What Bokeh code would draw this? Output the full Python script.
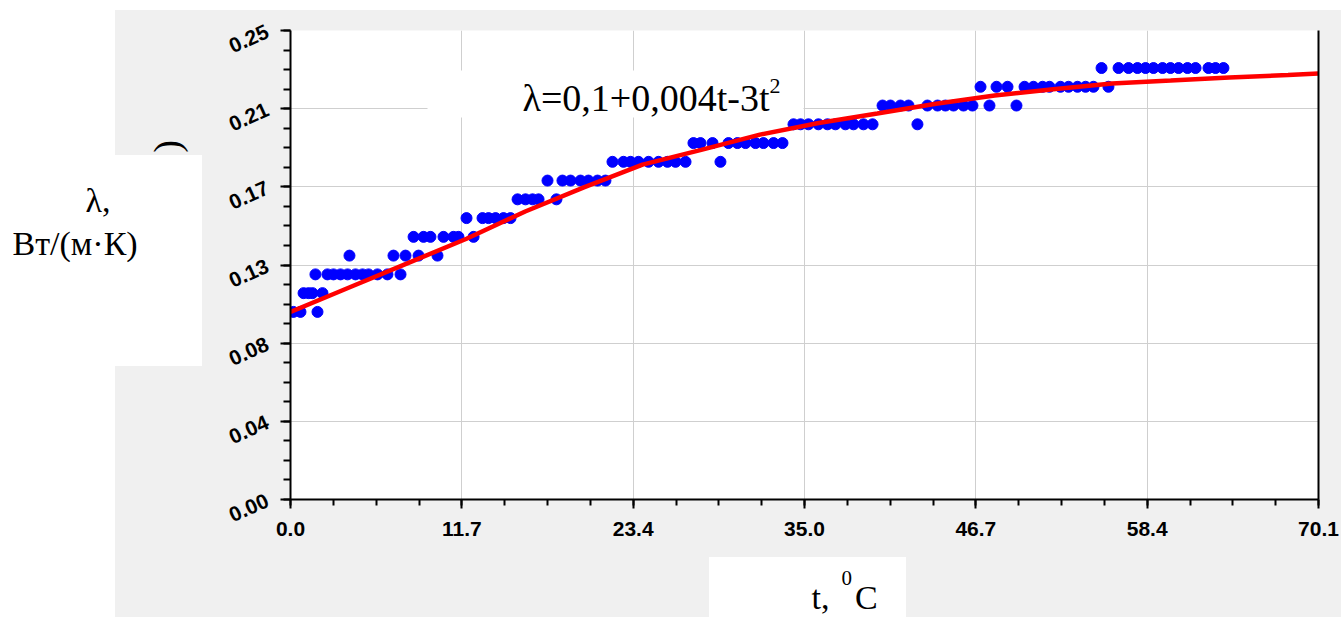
import math
from bokeh.plotting import figure
from bokeh.models import (Range1d, FixedTicker, NumeralTickFormatter, LinearAxis,
                          BoxAnnotation, Label)
from bokeh.embed import file_html
from bokeh.resources import INLINE

# ---------------- data ----------------
t_values = [0.20, 0.68, 0.89, 1.23, 1.50, 1.70, 1.84, 2.18, 2.52, 2.93,
            3.41, 3.89, 4.02, 4.43, 4.91, 5.32, 5.93, 6.61, 7.02, 7.50,
            7.84, 8.39, 8.73, 9.07, 9.54, 10.02, 10.43, 11.11, 11.45, 12.00,
            12.48, 13.09, 13.50, 13.98, 14.52, 15.00, 15.48, 16.02, 16.50, 16.91,
            17.52, 18.13, 18.54, 19.09, 19.77, 20.31, 20.93, 21.47, 21.95, 22.70,
            23.18, 23.72, 24.41, 25.09, 25.70, 26.25, 26.93, 27.47, 27.95, 28.77,
            29.31, 29.86, 30.47, 31.02, 31.70, 32.24, 32.93, 33.54, 34.29, 34.77,
            35.31, 35.99, 36.61, 37.15, 37.83, 38.38, 39.06, 39.68, 40.36, 40.90,
            41.58, 42.13, 42.74, 43.42, 44.11, 44.65, 45.20, 45.88, 46.49, 47.04,
            47.65, 48.13, 48.88, 49.49, 50.04, 50.65, 51.27, 51.74, 52.49, 53.04,
            53.65, 54.20, 54.74, 55.29, 55.76, 56.45, 57.13, 57.74, 58.29, 58.83,
            59.45, 59.99, 60.54, 61.15, 61.70, 62.58, 63.06, 63.60]
lam_values = [0.10, 0.10, 0.11, 0.11, 0.11, 0.12, 0.10, 0.11, 0.12, 0.12,
              0.12, 0.12, 0.13, 0.12, 0.12, 0.12, 0.12, 0.12, 0.13, 0.12,
              0.13, 0.14, 0.13, 0.14, 0.14, 0.13, 0.14, 0.14, 0.14, 0.15,
              0.14, 0.15, 0.15, 0.15, 0.15, 0.15, 0.16, 0.16, 0.16, 0.16,
              0.17, 0.16, 0.17, 0.17, 0.17, 0.17, 0.17, 0.17, 0.18, 0.18,
              0.18, 0.18, 0.18, 0.18, 0.18, 0.18, 0.18, 0.19, 0.19, 0.19,
              0.18, 0.19, 0.19, 0.19, 0.19, 0.19, 0.19, 0.19, 0.20, 0.20,
              0.20, 0.20, 0.20, 0.20, 0.20, 0.20, 0.20, 0.20, 0.21, 0.21,
              0.21, 0.21, 0.20, 0.21, 0.21, 0.21, 0.21, 0.21, 0.21, 0.22,
              0.21, 0.22, 0.22, 0.21, 0.22, 0.22, 0.22, 0.22, 0.22, 0.22,
              0.22, 0.22, 0.22, 0.23, 0.22, 0.23, 0.23, 0.23, 0.23, 0.23,
              0.23, 0.23, 0.23, 0.23, 0.23, 0.23, 0.23, 0.23]

fit_t = [0, 4, 8, 12, 16, 20, 24, 28, 32, 36, 40, 44, 48, 52, 56, 60, 64, 68, 70.08]
fit_lam = [0.100, 0.113, 0.126, 0.139, 0.1535, 0.1664, 0.1785, 0.1864, 0.1945,
           0.2007, 0.2058, 0.2110, 0.2154, 0.2187, 0.2218, 0.2233, 0.2249, 0.2263, 0.2271]

x_tick_values = [0.0, 11.68, 23.36, 35.04, 46.72, 58.40, 70.08]
x_tick_labels = ["0.0", "11.7", "23.4", "35.0", "46.7", "58.4", "70.1"]
y_tick_values = [0.0, 0.041667, 0.083333, 0.125, 0.166667, 0.208333, 0.25]
y_tick_labels = ["0.00", "0.04", "0.08", "0.13", "0.17", "0.21", "0.25"]

formula_text = "λ=0,1+0,004t-3t"
formula_sup = "2"
y_label_lines = ["λ,", "Вт/(м·К)"]
x_label_main = "t,\u00a0\u00a0\u00a0C"
x_label_sup = "0"

# ---------------- layout helpers (reference pixel -> data coords) ----------------
W, H = 1341, 617
X0_PX, X1_PX = 290, 1318
Y0_PX, Y1_PX = 499, 30
X_MAX, Y_MAX = 70.08, 0.25


def dx(px):
    return (px - X0_PX) / (X1_PX - X0_PX) * X_MAX


def dy(py):
    return (Y0_PX - py) / (Y0_PX - Y1_PX) * Y_MAX


GRAY = "#f0f0f0"
SERIF = "Liberation Serif"
SANS = "Liberation Sans"


def css_rect(x, y, w, h):
    return f"linear-gradient(#ffffff, #ffffff) {x}px {y}px / {w}px {h}px no-repeat"


# page background: gray panel with white areas around / behind the titles
page_bg = ", ".join([css_rect(0, 0, 115, H), css_rect(0, 0, W, 10),
                     css_rect(0, 155, 202, 211), css_rect(709, 557, 197, 60)]) + ", " + GRAY

p = figure(width=W, height=H, output_backend="svg", toolbar_location=None,
           x_range=Range1d(0, X_MAX), y_range=Range1d(0, Y_MAX),
           min_border_left=X0_PX, min_border_right=W - X1_PX, min_border_top=Y1_PX,
           min_border_bottom=H - Y0_PX,
           background_fill_color="white", border_fill_color=None,
           outline_line_color=None, styles={"background": page_bg})

# ticks
xstep = (x_tick_values[1] - x_tick_values[0]) / 4
x_minor = [x_tick_values[0] + i * xstep for i in range(25)]
ystep = (y_tick_values[-1] - y_tick_values[0]) / 24
y_minor = [i * ystep for i in range(25)]

xa = p.xaxis[0]
xa.ticker = FixedTicker(ticks=x_tick_values, minor_ticks=x_minor)
xa.formatter = NumeralTickFormatter(format="0.0")
xa.major_label_overrides = dict(zip(x_tick_values, x_tick_labels))
ya = p.yaxis[0]
ya.ticker = FixedTicker(ticks=y_tick_values, minor_ticks=y_minor)
ya.formatter = NumeralTickFormatter(format="0.00")
ya.major_label_overrides = dict(zip(y_tick_values, y_tick_labels))
ya.major_label_orientation = 0.42

for ax in (xa, ya):
    ax.axis_line_color = "black"
    ax.axis_line_width = 2
    ax.major_tick_line_color = "black"
    ax.major_tick_line_width = 2
    ax.minor_tick_line_color = "black"
    ax.minor_tick_line_width = 2
    ax.major_tick_in = 0
    ax.minor_tick_in = 0
    ax.major_label_text_font = SANS
    ax.major_label_text_font_style = "bold"
    ax.major_label_text_font_size = "21px"
    ax.major_label_text_color = "black"
xa.major_tick_out = 9
xa.minor_tick_out = 6
xa.major_label_standoff = 13
ya.major_tick_out = 10
ya.minor_tick_out = 7
ya.major_label_standoff = 13

p.xgrid.ticker = FixedTicker(ticks=x_tick_values)
p.ygrid.ticker = FixedTicker(ticks=y_tick_values)
for g in (p.xgrid, p.ygrid):
    g.grid_line_color = "#cfcfcf"
    g.grid_line_width = 1

right_axis = LinearAxis(ticker=FixedTicker(ticks=[]), axis_line_color="black",
                        axis_line_width=2, major_tick_line_color=None,
                        minor_tick_line_color=None, major_label_text_color=None)
p.add_layout(right_axis, "right")

# data
p.scatter(t_values, lam_values, size=11, fill_color="#0000ff", line_color="#0000ff")
p.line(fit_t, fit_lam, line_width=4.5, line_color="#ff0000")


def text(px, py, s, size, place, align="left", angle=0.0, baseline="alphabetic"):
    lab = Label(x=dx(px), y=dy(py), text=s, angle=angle, text_align=align,
                text_baseline=baseline, text_font=SERIF, text_font_size=size,
                text_color="black")
    if place == "center":
        p.add_layout(lab)
    else:
        p.add_layout(lab, place)


# partially hidden fragment of an original axis title (above the white patch)
text(166, 146, ")", "38px", "left", align="center", angle=math.pi / 2, baseline="middle")

# axis titles (side panels, so they are not clipped to the frame)
text(85, 200, y_label_lines[0], "34px", "left")
text(12, 243, y_label_lines[1], "34px", "left")
text(811, 597, x_label_main, "34px", "below")
text(841, 577, x_label_sup, "21px", "below")

# formula (inside the frame, on its own white patch)
p.add_layout(BoxAnnotation(left=dx(427), right=dx(803), top=dy(70), bottom=dy(117),
                           fill_color="white", fill_alpha=1.0, line_color=None))
text(522, 97, formula_text, "38px", "center")
text(769, 85, formula_sup, "22px", "center")

open("out.html", "w").write(file_html(p, INLINE))
